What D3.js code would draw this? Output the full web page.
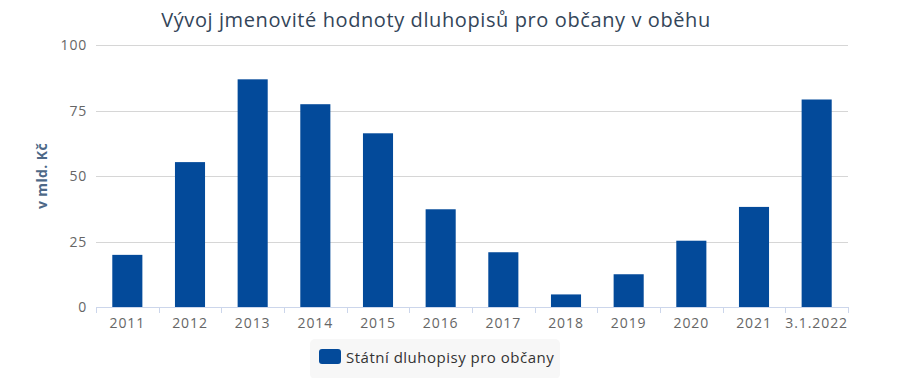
<!DOCTYPE html>
<html>
<head>
<meta charset="utf-8">
<script src="https://cdn.jsdelivr.net/npm/d3@7/dist/d3.min.js"></script>
<style>
  body { margin: 0; background: #fff; font-family: "Open Sans", sans-serif; }
</style>
</head>
<body>
<svg id="chart"></svg>
<script>
// Data
const categories = ["2011", "2012", "2013", "2014", "2015", "2016", "2017", "2018", "2019", "2020", "2021", "3.1.2022"];
const values = [19.9, 55.3, 86.9, 77.4, 66.3, 37.3, 20.9, 4.8, 12.5, 25.3, 38.2, 79.2];
const yTicks = [0, 25, 50, 75, 100];
const seriesName = "Státní dluhopisy pro občany";
const titleText = "Vývoj jmenovité hodnoty dluhopisů pro občany v oběhu";
const yTitle = "v mld. Kč";

const W = 899, H = 378;
const margin = { top: 45, right: 51, bottom: 71, left: 96 };
const width = W - margin.left - margin.right;
const height = H - margin.top - margin.bottom;
const barColor = "#034a9a";

const svg = d3.select("#chart").attr("width", W).attr("height", H);

// Title
svg.append("text")
    .attr("x", 436)
    .attr("y", 27)
    .attr("text-anchor", "middle")
    .style("font-size", "20px")
    .style("letter-spacing", "0.6px")
    .style("fill", "#334559")
    .text(titleText);

const g = svg.append("g")
    .attr("transform", "translate(" + margin.left + "," + margin.top + ")");

// Scales
const x = d3.scaleBand()
    .domain(categories)
    .range([0, width])
    .paddingInner(0.52)
    .paddingOuter(0.26);

const xEdges = d3.scaleLinear().domain([0, categories.length]).range([0, width]);

const y = d3.scaleLinear()
    .domain([0, 100])
    .range([height, 0]);

// Gridlines
g.selectAll(".grid")
    .data(yTicks.filter(d => d > 0))
    .enter().append("line")
    .attr("x1", 0)
    .attr("x2", width)
    .attr("y1", d => Math.round(y(d)) + 0.5)
    .attr("y2", d => Math.round(y(d)) + 0.5)
    .attr("stroke", "#d6d6d6")
    .attr("stroke-width", 1);

// Y axis labels
g.selectAll(".ylab")
    .data(yTicks)
    .enter().append("text")
    .attr("x", -9)
    .attr("y", d => y(d) + 5)
    .attr("text-anchor", "end")
    .style("font-size", "14px")
    .style("letter-spacing", "0.8px")
    .style("fill", "#666")
    .text(d => d);

// Y axis title
svg.append("text")
    .attr("transform", "translate(47," + (margin.top + height / 2) + ") rotate(-90)")
    .attr("text-anchor", "middle")
    .style("font-size", "14px")
    .style("font-weight", "bold")
    .style("letter-spacing", "0.4px")
    .style("fill", "#4d6887")
    .text(yTitle);

// Bars
g.selectAll(".bar")
    .data(values)
    .enter().append("rect")
    .attr("class", "bar")
    .attr("x", (d, i) => x(categories[i]))
    .attr("y", d => y(d))
    .attr("width", x.bandwidth())
    .attr("height", d => height - y(d))
    .attr("fill", barColor);

// X axis
g.append("line")
    .attr("x1", 0)
    .attr("x2", width)
    .attr("y1", height + 0.5)
    .attr("y2", height + 0.5)
    .attr("stroke", "#ccd6eb");

g.selectAll(".xtick")
    .data(d3.range(categories.length + 1))
    .enter().append("line")
    .attr("x1", d => Math.round(xEdges(d)) + 0.5)
    .attr("x2", d => Math.round(xEdges(d)) + 0.5)
    .attr("y1", height)
    .attr("y2", height + 6)
    .attr("stroke", "#ccd6eb");

g.selectAll(".xlab")
    .data(categories)
    .enter().append("text")
    .attr("x", d => x(d) + x.bandwidth() / 2)
    .attr("y", height + 21)
    .attr("text-anchor", "middle")
    .style("font-size", "14px")
    .style("fill", "#666")
    .style("letter-spacing", "0.9px")
    .text(d => d);

// Legend
const legend = svg.append("g").attr("transform", "translate(310,339)");
legend.append("rect")
    .attr("width", 250)
    .attr("height", 40)
    .attr("rx", 5)
    .attr("fill", "#f7f7f7");
legend.append("rect")
    .attr("x", 9)
    .attr("y", 10)
    .attr("width", 22)
    .attr("height", 15)
    .attr("rx", 3)
    .attr("fill", barColor);
legend.append("text")
    .attr("x", 36)
    .attr("y", 24)
    .style("font-size", "15px")
    .style("letter-spacing", "0.5px")
    .style("fill", "#333")
    .text(seriesName);
</script>
</body>
</html>
